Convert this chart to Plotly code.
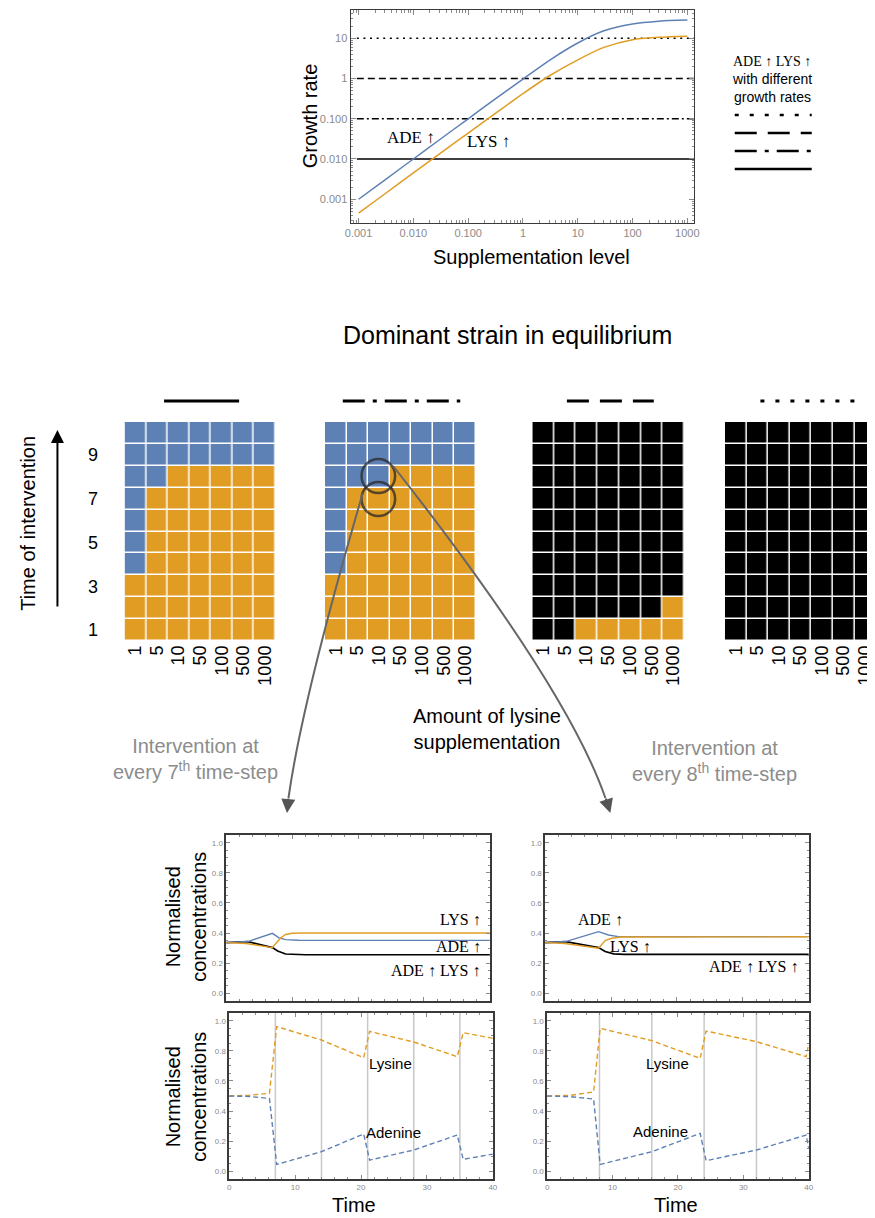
import plotly.graph_objects as go

# page body adds an 8px margin: work in screenshot pixels and compensate
OFF = 8
W, H = 875 - OFF, 1218 - OFF


def PX(x):
    return (x - OFF) / W


def PY(y):
    return 1 - (y - OFF) / H


BLUE = "#5E81B5"
ORANGE = "#E19C24"
SANS = "Liberation Sans, Arial, Helvetica, sans-serif"
SERIF = "Liberation Serif, Times New Roman, serif"
TICKGRAY = "#8a8a8a"
FRAME = "#3a3a3a"

# ---------------- DATA ----------------
# Growth rate vs supplementation level
supplementation = [0.001, 0.003, 0.01, 0.03, 0.1, 0.3, 1, 3, 10, 30, 100, 300, 1000]
growth_ade = [0.001, 0.003, 0.01, 0.03, 0.0997, 0.297, 0.967, 2.79, 7.6, 15.3, 22.5, 26.4, 28.2]
growth_lys = [0.00045, 0.00135, 0.0045, 0.0134, 0.044, 0.13, 0.42, 1.15, 2.9, 5.9, 9.2, 10.5, 11.2]
growth_thresholds = [10, 1, 0.1, 0.01]
threshold_styles = ["2px,4.6px", "7px,4px", "7px,3px,2px,3px", "solid"]

# Dominant strain heatmaps: 0 = LYS↑ (orange), 1 = ADE↑ (blue), 2 = ADE↑LYS↑ (black)
lysine_levels = ["1", "5", "10", "50", "100", "500", "1000"]
intervention_times = [1, 2, 3, 4, 5, 6, 7, 8, 9, 10]
dominant_solid = [
    [0, 0, 0, 0, 0, 0, 0],
    [0, 0, 0, 0, 0, 0, 0],
    [0, 0, 0, 0, 0, 0, 0],
    [1, 0, 0, 0, 0, 0, 0],
    [1, 0, 0, 0, 0, 0, 0],
    [1, 0, 0, 0, 0, 0, 0],
    [1, 0, 0, 0, 0, 0, 0],
    [1, 1, 0, 0, 0, 0, 0],
    [1, 1, 1, 1, 1, 1, 1],
    [1, 1, 1, 1, 1, 1, 1],
]
dominant_dashdot = [
    [0, 0, 0, 0, 0, 0, 0],
    [0, 0, 0, 0, 0, 0, 0],
    [0, 0, 0, 0, 0, 0, 0],
    [1, 0, 0, 0, 0, 0, 0],
    [1, 0, 0, 0, 0, 0, 0],
    [1, 0, 0, 0, 0, 0, 0],
    [1, 0, 0, 0, 0, 0, 0],
    [1, 1, 1, 0, 0, 0, 0],
    [1, 1, 1, 1, 1, 1, 1],
    [1, 1, 1, 1, 1, 1, 1],
]
dominant_dashed = [
    [2, 2, 0, 0, 0, 0, 0],
    [2, 2, 2, 2, 2, 2, 0],
    [2, 2, 2, 2, 2, 2, 2],
    [2, 2, 2, 2, 2, 2, 2],
    [2, 2, 2, 2, 2, 2, 2],
    [2, 2, 2, 2, 2, 2, 2],
    [2, 2, 2, 2, 2, 2, 2],
    [2, 2, 2, 2, 2, 2, 2],
    [2, 2, 2, 2, 2, 2, 2],
    [2, 2, 2, 2, 2, 2, 2],
]
dominant_dotted = [[2, 2, 2, 2, 2, 2, 2] for _ in range(10)]

# Strain concentrations, intervention every 7th step
t_lys_7 = [0, 3, 7, 7.6, 8.2, 9.0, 10.0, 12, 40]
strain_lys_7 = [0.336, 0.330, 0.303, 0.335, 0.365, 0.390, 0.398, 0.400, 0.400]
t_ade_7 = [0, 3.3, 7, 8, 9, 11, 40]
strain_ade_7 = [0.336, 0.343, 0.398, 0.368, 0.356, 0.352, 0.351]
t_both_7 = [0, 3.3, 7, 7.8, 9, 10.5, 12, 40]
strain_both_7 = [0.336, 0.343, 0.303, 0.280, 0.260, 0.256, 0.255, 0.255]

# Strain concentrations, intervention every 8th step
t_lys_8 = [0, 3, 8.1, 9.1, 10.1, 11.5, 40]
strain_lys_8 = [0.336, 0.330, 0.299, 0.350, 0.365, 0.373, 0.375]
t_ade_8 = [0, 3.1, 8.1, 9.6, 11.1, 40]
strain_ade_8 = [0.336, 0.343, 0.409, 0.387, 0.376, 0.376]
t_both_8 = [0, 3.1, 8.1, 9.1, 10.4, 12, 40]
strain_both_8 = [0.336, 0.343, 0.303, 0.277, 0.261, 0.258, 0.258]

# Nutrient concentrations
t_nut_7 = [0, 3, 6.1, 7.2, 14, 20.4, 21.3, 28, 34.6, 35.5, 40]
lysine_7 = [0.5, 0.505, 0.518, 0.962, 0.873, 0.755, 0.930, 0.860, 0.762, 0.922, 0.884]
adenine_7 = [0.5, 0.497, 0.484, 0.044, 0.129, 0.247, 0.073, 0.140, 0.240, 0.078, 0.113]
t_nut_8 = [0, 3.6, 7.1, 8.1, 16, 23.4, 24.3, 32, 39.6, 40]
lysine_8 = [0.5, 0.505, 0.527, 0.951, 0.869, 0.751, 0.933, 0.862, 0.762, 0.850]
adenine_8 = [0.5, 0.495, 0.480, 0.044, 0.129, 0.251, 0.069, 0.140, 0.240, 0.150]
interventions_7 = [7, 14, 21, 28, 35]
interventions_8 = [8, 16, 24, 32]

# ---------------- FIGURE ----------------
fig = go.Figure()
layout = dict(
    width=W, height=H, margin=dict(l=0, r=0, t=0, b=0),
    paper_bgcolor="white", plot_bgcolor="white", showlegend=False,
    font=dict(family=SANS, color="black"),
)
shapes = []
annotations = []

# ---- top growth-rate panel ----
for thr, dash in zip(growth_thresholds, threshold_styles):
    fig.add_trace(go.Scatter(x=[0.00093, 1500], y=[thr, thr], mode="lines",
                             line=dict(color="black", width=1.6, dash=dash),
                             xaxis="x", yaxis="y", hoverinfo="skip"))
fig.add_trace(go.Scatter(x=supplementation, y=growth_ade, mode="lines",
                         line=dict(color=BLUE, width=1.5, shape="spline", smoothing=0.8),
                         xaxis="x", yaxis="y"))
fig.add_trace(go.Scatter(x=supplementation, y=growth_lys, mode="lines",
                         line=dict(color=ORANGE, width=1.5, shape="spline", smoothing=0.8),
                         xaxis="x", yaxis="y"))

minor_log = [m * 10 ** e for e in range(-4, 4) for m in range(2, 10)]
frame_common = dict(showline=True, linecolor=FRAME, linewidth=1.2, mirror="ticks",
                    ticks="inside", tickcolor=TICKGRAY, showgrid=False, zeroline=False,
                    tickfont=dict(size=11, color=TICKGRAY, family=SANS))
layout["xaxis"] = dict(frame_common, type="log", domain=[PX(349), PX(697)],
                       range=[-3.144, 3.126], anchor="y", ticklen=5,
                       tickvals=[0.001, 0.01, 0.1, 1, 10, 100, 1000],
                       ticktext=["0.001", "0.010", "0.100", "1", "10", "100", "1000"],
                       minor=dict(ticks="inside", ticklen=2.5, tickcolor=TICKGRAY, tickvals=minor_log))
layout["yaxis"] = dict(frame_common, type="log", domain=[PY(223), PY(10)],
                       range=[-3.59, 1.70], anchor="x", ticklen=5,
                       tickvals=[0.001, 0.01, 0.1, 1, 10],
                       ticktext=["0.001", "0.010", "0.100", "1", "10"],
                       minor=dict(ticks="inside", ticklen=2.5, tickcolor=TICKGRAY, tickvals=minor_log))
annotations += [
    dict(x=PX(308), y=PY(116), text="Growth rate", textangle=-90, font=dict(size=20)),
    dict(x=PX(532), y=PY(257), text="Supplementation level", font=dict(size=20)),
    dict(x=PX(410), y=PY(137), text="ADE ↑", font=dict(size=17, family=SERIF)),
    dict(x=PX(489), y=PY(142), text="LYS ↑", font=dict(size=17, family=SERIF)),
    dict(x=PX(776), y=PY(61), text="ADE ↑ LYS ↑", font=dict(size=14, family=SERIF)),
    dict(x=PX(776), y=PY(79), text="with different", font=dict(size=14)),
    dict(x=PX(776), y=PY(97), text="growth rates", font=dict(size=14)),
]
legend_dash = ["4px,11px", "22px,11px", "22px,8px,4px,8px", "solid"]
for yy, d in zip([115, 133, 151, 169], legend_dash):
    shapes.append(dict(type="line", xref="paper", yref="paper", x0=PX(738), x1=PX(816),
                       y0=PY(yy), y1=PY(yy), line=dict(color="black", width=2.5, dash=d)))

# ---- heatmaps ----
annotations.append(dict(x=PX(508), y=PY(335), text="Dominant strain in equilibrium", font=dict(size=25)))
colorscale = [[0, ORANGE], [0.333, ORANGE], [0.334, BLUE], [0.666, BLUE], [0.667, "black"], [1, "black"]]
heat_panels = [
    (dominant_solid, 120, 273, [-0.5, 6.5], "solid", 160, 236),
    (dominant_dashdot, 323, 476, [-0.5, 6.5], "22px,8px,4px,8px", 341, 460),
    (dominant_dashed, 533, 687, [-0.5, 6.5], "22px,11px", 568, 656),
    (dominant_dotted, 728, 875, [-0.5, 6.22], "4px,11px", 764, 862),
]
for i, (zz, x0, x1, xr, dash, lx0, lx1) in enumerate(heat_panels):
    n = i + 2
    fig.add_trace(go.Heatmap(z=zz, x=list(range(len(lysine_levels))), y=intervention_times,
                             colorscale=colorscale, zmin=0, zmax=2, showscale=False,
                             xgap=1.5, ygap=1.5, xaxis=f"x{n}", yaxis=f"y{n}", hoverinfo="skip"))
    layout[f"xaxis{n}"] = dict(domain=[PX(x0), min(PX(x1), 1.0)], range=xr, anchor=f"y{n}",
                               tickvals=list(range(len(lysine_levels))), ticktext=lysine_levels,
                               tickangle=-90, showgrid=False, zeroline=False, showline=False,
                               ticks="", ticklabeloverflow="allow",
                               tickfont=dict(size=18, color="black"))
    layout[f"yaxis{n}"] = dict(domain=[PY(641), PY(422)], range=[0.5, 10.5], anchor=f"x{n}",
                               showgrid=False, zeroline=False, showline=False,
                               tickvals=[1, 3, 5, 7, 9], showticklabels=(i == 0),
                               ticks="outside" if i == 0 else "", ticklen=22,
                               tickcolor="rgba(0,0,0,0)", tickfont=dict(size=18, color="black"))
    shapes.append(dict(type="line", xref="paper", yref="paper", x0=PX(lx0), x1=PX(lx1),
                       y0=PY(401), y1=PY(401), line=dict(color="black", width=2.8, dash=dash)))

annotations += [
    dict(x=PX(22), y=PY(523), text="Time of intervention", textangle=-90, font=dict(size=20)),
    dict(x=PX(52), y=PY(430), ax=0, ay=178, text="", showarrow=True, arrowhead=2,
         arrowsize=1.3, arrowwidth=2, arrowcolor="black"),
    dict(x=PX(487), y=PY(729), text="Amount of lysine<br>supplementation", font=dict(size=20)),
    dict(x=PX(192), y=PY(759), text="Intervention at<br>every 7<sup>th</sup> time-step",
         font=dict(size=20, color="#8c8c8c")),
    dict(x=PX(717), y=PY(761), text="Intervention at<br>every 8<sup>th</sup> time-step",
         font=dict(size=20, color="#8c8c8c")),
]

# circles and connecting arrows
for cy in [476, 499]:
    shapes.append(dict(type="circle", xref="paper", yref="paper",
                       x0=PX(377 - 17), x1=PX(377 + 17), y0=PY(cy + 17), y1=PY(cy - 17),
                       line=dict(color="rgba(40,40,40,0.75)", width=2.5)))
shapes.append(dict(type="path", xref="paper", yref="paper",
                   path=f"M {PX(361)},{PY(494)} Q {PX(300)},{PY(700)} {PX(286)},{PY(798)}",
                   line=dict(color="#666666", width=2)))
shapes.append(dict(type="path", xref="paper", yref="paper",
                   path=f"M {PX(392)},{PY(466)} Q {PX(568)},{PY(687)} {PX(607)},{PY(798)}",
                   line=dict(color="#666666", width=2)))
annotations += [
    dict(x=PX(284.5), y=PY(813), ax=1.5, ay=-16, text="", showarrow=True, arrowhead=2,
         arrowsize=1.4, arrowwidth=2, arrowcolor="#555555"),
    dict(x=PX(612), y=PY(813), ax=-5, ay=-16, text="", showarrow=True, arrowhead=2,
         arrowsize=1.4, arrowwidth=2, arrowcolor="#555555"),
]

# ---- concentration panels ----
conc_frame = dict(showline=True, linecolor=FRAME, linewidth=1.5, mirror="ticks",
                  ticks="inside", ticklen=4, tickcolor=TICKGRAY, showgrid=False, zeroline=False,
                  tickfont=dict(size=8, color=TICKGRAY, family=SANS))
conc_panels = [
    (6, 223, 490, 835, 1001, False),
    (7, 546, 813, 835, 1001, False),
    (8, 226, 493, 1013, 1179, True),
    (9, 548, 813, 1013, 1179, True),
]
for n, x0, x1, y0, y1, labels in conc_panels:
    layout[f"xaxis{n}"] = dict(conc_frame, domain=[PX(x0), PX(x1)], range=[0, 40], anchor=f"y{n}",
                               tickvals=[0, 10, 20, 30, 40], showticklabels=labels,
                               minor=dict(ticks="inside", ticklen=2, tickcolor=TICKGRAY, dtick=2, tick0=0))
    layout[f"yaxis{n}"] = dict(conc_frame, domain=[PY(y1), PY(y0)], range=[-0.053, 1.053],
                               anchor=f"x{n}", tickvals=[0, 0.2, 0.4, 0.6, 0.8, 1.0],
                               ticktext=["0.0", "0.2", "0.4", "0.6", "0.8", "1.0"],
                               minor=dict(ticks="inside", ticklen=2, tickcolor=TICKGRAY, dtick=0.05, tick0=0))


def strain_lines(n, tl, yl, ta, ya, tb, yb):
    fig.add_trace(go.Scatter(x=tb, y=yb, mode="lines", line=dict(color="black", width=1.7),
                             xaxis=f"x{n}", yaxis=f"y{n}"))
    fig.add_trace(go.Scatter(x=ta, y=ya, mode="lines", line=dict(color=BLUE, width=1.4),
                             xaxis=f"x{n}", yaxis=f"y{n}"))
    fig.add_trace(go.Scatter(x=tl, y=yl, mode="lines", line=dict(color=ORANGE, width=1.4),
                             xaxis=f"x{n}", yaxis=f"y{n}"))


strain_lines(6, t_lys_7, strain_lys_7, t_ade_7, strain_ade_7, t_both_7, strain_both_7)
strain_lines(7, t_lys_8, strain_lys_8, t_ade_8, strain_ade_8, t_both_8, strain_both_8)

for n, tv in [(8, interventions_7), (9, interventions_8)]:
    for t in tv:
        shapes.append(dict(type="line", xref=f"x{n}", yref=f"y{n} domain", x0=t, x1=t, y0=0, y1=1,
                           line=dict(color="#c8c8c8", width=1.5), layer="below"))

for n, tt, lys, ade in [(8, t_nut_7, lysine_7, adenine_7), (9, t_nut_8, lysine_8, adenine_8)]:
    fig.add_trace(go.Scatter(x=tt, y=lys, mode="lines", line=dict(color=ORANGE, width=1.4, dash="5px,3px"),
                             xaxis=f"x{n}", yaxis=f"y{n}"))
    fig.add_trace(go.Scatter(x=tt, y=ade, mode="lines", line=dict(color=BLUE, width=1.4, dash="5px,3px"),
                             xaxis=f"x{n}", yaxis=f"y{n}"))

annotations += [
    dict(xref="x6", yref="y6", x=38.9, y=0.487, xanchor="right", text="LYS ↑", font=dict(size=16, family=SERIF)),
    dict(xref="x6", yref="y6", x=38.9, y=0.313, xanchor="right", text="ADE ↑", font=dict(size=16, family=SERIF)),
    dict(xref="x6", yref="y6", x=38.9, y=0.153, xanchor="right", text="ADE ↑ LYS ↑", font=dict(size=16, family=SERIF)),
    dict(xref="x7", yref="y7", x=8.4, y=0.487, text="ADE ↑", font=dict(size=16, family=SERIF)),
    dict(xref="x7", yref="y7", x=13.0, y=0.313, text="LYS ↑", font=dict(size=16, family=SERIF)),
    dict(xref="x7", yref="y7", x=38.8, y=0.18, xanchor="right", text="ADE ↑ LYS ↑", font=dict(size=16, family=SERIF)),
    dict(xref="x8", yref="y8", x=24.4, y=0.718, text="Lysine", font=dict(size=15)),
    dict(xref="x8", yref="y8", x=25.0, y=0.258, text="Adenine", font=dict(size=15)),
    dict(xref="x9", yref="y9", x=18.4, y=0.718, text="Lysine", font=dict(size=15)),
    dict(xref="x9", yref="y9", x=17.4, y=0.262, text="Adenine", font=dict(size=15)),
    dict(x=PX(182), y=PY(917), text="Normalised<br>concentrations", textangle=-90, font=dict(size=20)),
    dict(x=PX(182), y=PY(1097), text="Normalised<br>concentrations", textangle=-90, font=dict(size=20)),
    dict(x=PX(352), y=PY(1205), text="Time", font=dict(size=20)),
    dict(x=PX(679), y=PY(1205), text="Time", font=dict(size=20)),
]

for a in annotations:
    a.setdefault("xref", "paper")
    a.setdefault("yref", "paper")
    a.setdefault("showarrow", False)
    if not a.get("showarrow"):
        a.setdefault("xanchor", "center")
        a.setdefault("yanchor", "middle")

layout["shapes"] = shapes
layout["annotations"] = annotations
fig.update_layout(**layout)
fig.update_traces(hoverinfo="skip", selector=dict(type="scatter"))
fig.write_html("out.html")
